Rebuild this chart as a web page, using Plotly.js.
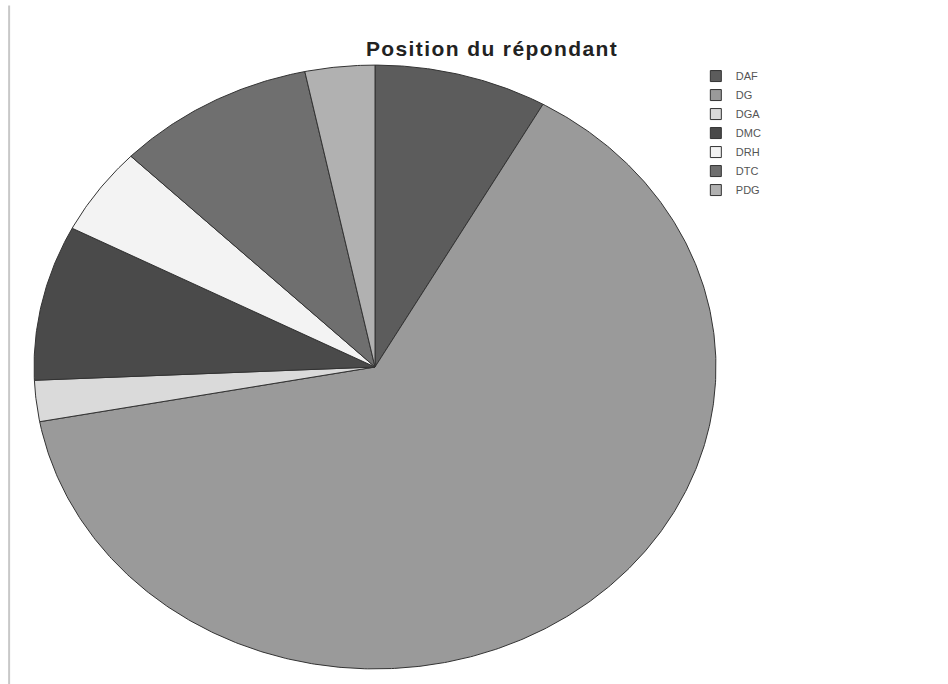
<!DOCTYPE html>
<html>
<head>
<meta charset="utf-8">
<script src="https://cdn.plot.ly/plotly-3.0.1.min.js"></script>
<style>
  html, body { margin: 0; padding: 0; background: #ffffff; }
  #chart { width: 948px; height: 684px; }
  #chart .gtitle { letter-spacing: 1.4px; }
</style>
</head>
<body>
<div id="chart"></div>
<script>
// Share of respondents by position (percent)
const labels = ['DAF', 'DG', 'DGA', 'DMC', 'DRH', 'DTC', 'PDG'];
const values = [8.2, 63.9, 2.2, 8.3, 4.7, 9.4, 3.3];
const sliceColors = ['#5c5c5c', '#9a9a9a', '#dadada', '#4a4a4a', '#f3f3f3', '#6f6f6f', '#b1b1b1'];

// Slices are laid out clockwise from 12 o'clock on a unit circle;
// the axes stretch the unit circle into the printed oval.
const total = values.reduce((a, b) => a + b, 0);
const traces = [];
let acc = 0;
labels.forEach((lab, i) => {
  const a0 = acc / total * 2 * Math.PI;
  acc += values[i];
  const a1 = acc / total * 2 * Math.PI;
  const n = Math.max(2, Math.ceil((a1 - a0) / (Math.PI / 360)));
  const xs = [0], ys = [0];
  for (let k = 0; k <= n; k++) {
    const t = a0 + (a1 - a0) * k / n;
    xs.push(Math.sin(t));
    ys.push(Math.cos(t));
  }
  xs.push(0); ys.push(0);
  traces.push({
    type: 'scatter', mode: 'lines', x: xs, y: ys,
    fill: 'toself', fillcolor: sliceColors[i],
    line: { color: '#333333', width: 1 },
    showlegend: false, hoverinfo: 'skip', name: lab
  });
});

// Legend entries: small outlined squares
labels.forEach((lab, i) => {
  traces.push({
    type: 'scatter', mode: 'markers', x: [null], y: [null], name: lab,
    marker: { symbol: 'square', size: 11, color: sliceColors[i], line: { color: '#333333', width: 1 } },
    hoverinfo: 'skip'
  });
});

const layout = {
  width: 948, height: 684,
  paper_bgcolor: '#ffffff', plot_bgcolor: 'rgba(0,0,0,0)',
  margin: { l: 17, r: 215, t: 50, b: 0, autoexpand: false },
  xaxis: { range: [-1.05, 1.05], visible: false, fixedrange: true },
  yaxis: { range: [-1.05, 1.05], visible: false, fixedrange: true },
  title: {
    text: '<b>Position du répondant</b>',
    font: { family: 'Liberation Sans, Arial, sans-serif', size: 21, color: '#222222' },
    xref: 'container', x: 0.519, xanchor: 'center',
    yref: 'container', y: 0.929, yanchor: 'middle'
  },
  showlegend: true,
  legend: {
    xref: 'container', yref: 'container',
    x: 0.734, xanchor: 'left', y: 0.91, yanchor: 'top',
    font: { family: 'Liberation Sans, Arial, sans-serif', size: 11, color: '#555555' },
    bgcolor: 'rgba(0,0,0,0)', borderwidth: 0, tracegroupgap: 0
  },
  shapes: [
    { type: 'line', xref: 'paper', yref: 'paper', x0: -0.011, x1: -0.011, y0: 1.07, y1: -0.01,
      line: { color: '#c8c8c8', width: 2 } }
  ],
  hovermode: false
};

Plotly.newPlot('chart', traces, layout, { displayModeBar: false, staticPlot: true });
</script>
</body>
</html>
